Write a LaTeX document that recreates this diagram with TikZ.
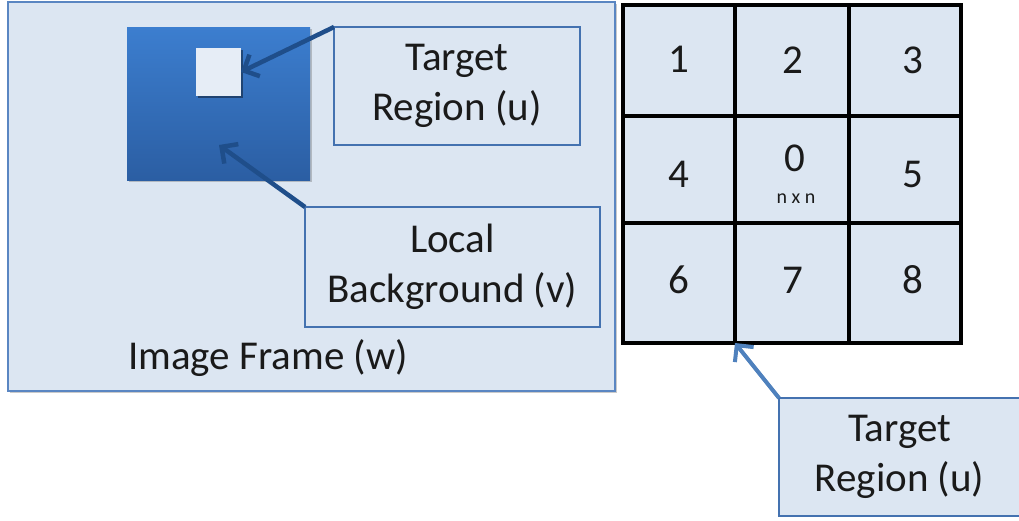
\documentclass[tikz,border=0pt]{standalone}
\usepackage{fontspec}
\setmainfont{Carlito}
\usetikzlibrary{arrows.meta,shadows}
\definecolor{paleblue}{HTML}{DCE6F2}
\definecolor{framecol}{HTML}{5A86C2}
\definecolor{boxline}{HTML}{4472B0}
\definecolor{navy}{HTML}{1F4E8A}
\definecolor{midblue}{HTML}{4F81BD}
\definecolor{sqtop}{HTML}{3C7ECF}
\definecolor{sqbot}{HTML}{2B5EA3}
\definecolor{ink}{HTML}{1A1A1A}
\newcommand\bigtext{\fontsize{41}{50}\selectfont}
\newcommand\smalltext{\fontsize{20}{22}\selectfont}

\begin{document}
\begin{tikzpicture}[x=1pt,y=-1pt,
  corner/.style={anchor=north west, inner sep=0pt, outer sep=0pt},
  labelbox/.style={corner, draw=boxline, line width=1.5pt, fill=paleblue,
                   align=center, font=\bigtext, text=ink},
  cell/.style={corner, draw=black, line width=3.5pt, fill=paleblue},
  num/.style={font=\bigtext, text=ink, inner sep=0pt},
  pointer/.style={line width=4.5pt, draw=navy,
                  -{Straight Barb[length=12pt,width=24pt]}},
  shade/.style={drop shadow={shadow xshift=2pt, shadow yshift=-2pt,
                opacity=0.35, fill=black!60}}
]
\useasboundingbox (0,0) rectangle (1019,520);

% ---------- image frame ----------
\node[corner, shade, draw=framecol, line width=2.2pt, fill=paleblue,
      minimum width=607pt, minimum height=389pt] (frame) at (8,2) {};
\node[num] (framelabel) at (268,358) {Image Frame (w)};

% local background block with the target region inside it
\node[corner, shade, top color=sqtop, bottom color=sqbot,
      minimum width=183pt, minimum height=153pt] (bg) at (127,27) {};
\node[corner, drop shadow={shadow xshift=1.5pt, shadow yshift=-1.5pt,
      opacity=0.4, fill=black}, fill=paleblue!70!white,
      minimum width=45pt, minimum height=48pt] (tgt) at (196,48) {};
\coordinate (bgpoint) at (219,145);

% callouts
\node[labelbox, minimum width=246pt, minimum height=118pt] (trbox)
      at (334,27) {Target\\Region (u)};
\node[labelbox, minimum width=295pt, minimum height=120pt] (lbbox)
      at (305,207) {Local\\Background (v)};

\draw[pointer] (trbox.north west) -- (tgt.east);
\draw[pointer] (lbbox.north west) -- (bgpoint);

% ---------- 3x3 neighbourhood grid ----------
\node[corner, shade, fill=paleblue, minimum width=338pt,
      minimum height=338pt] (grid) at (623,5) {};
\node[cell, minimum width=112pt, minimum height=111pt] (c1) at (623,5) {};
\node[cell, minimum width=114pt, minimum height=111pt] (c2) at (735,5) {};
\node[cell, minimum width=112pt, minimum height=111pt] (c3) at (849,5) {};
\node[cell, minimum width=112pt, minimum height=107pt] (c4) at (623,116) {};
\node[cell, minimum width=114pt, minimum height=107pt] (c0) at (735,116) {};
\node[cell, minimum width=112pt, minimum height=107pt] (c5) at (849,116) {};
\node[cell, minimum width=112pt, minimum height=120pt] (c6) at (623,223) {};
\node[cell, minimum width=114pt, minimum height=120pt] (c7) at (735,223) {};
\node[cell, minimum width=112pt, minimum height=120pt] (c8) at (849,223) {};

\node[num] (n1) at (679,59) {1};
\node[num] (n2) at (793,60) {2};
\node[num] (n3) at (913,60) {3};
\node[num] (n4) at (679,174) {4};
\node[num] (n0) at (795,158) {0};
\node[font=\smalltext, text=ink, inner sep=0pt] (nn) at (796,199) {n x n};
\node[num] (n5) at (913,174) {5};
\node[num] (n6) at (679,280) {6};
\node[num] (n7) at (793,280) {7};
\node[num] (n8) at (913,280) {8};

% callout below the grid
\node[labelbox, minimum width=241pt, minimum height=118pt] (ubox)
      at (779,398) {Target\\Region (u)};
\draw[pointer, draw=midblue, line width=4pt] (ubox.north west) -- (c7.south west);
\end{tikzpicture}
\end{document}
